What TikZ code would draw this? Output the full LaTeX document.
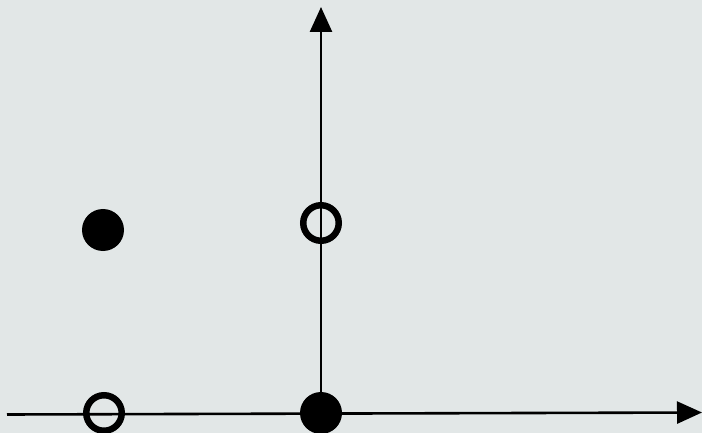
\documentclass[tikz,border=0pt]{standalone}
\usepackage{xcolor}
\usetikzlibrary{calc,arrows.meta}
\usetikzlibrary{positioning}
\definecolor{bgcol}{RGB}{226,231,231}

\begin{document}
\begin{tikzpicture}[x=1pt, y=-1pt,
  every node/.style={circle, inner sep=0pt},
  soliddot/.style={fill=black, draw=none, minimum size=42pt},
  opendot/.style={draw=black, line width=6.5pt, minimum size=35.5pt},
  axis/.style={draw=black, line width=2.6pt, -{Triangle[length=25pt, width=22pt]}}
]

% Background and bounding box
\fill[bgcol] (0,0) rectangle (702,433);
\useasboundingbox (0,0) rectangle (702,433);

% Axis end points
\coordinate (XL) at (7, 414.5);
\coordinate (XR) at (702, 412.5);
\coordinate (O)  at (321, 413);
\coordinate (YT) at (321, 7);

% ---- Axes ----
\draw[axis] (XL) -- (XR);
\draw[axis] (O) -- (YT);

% ---- Points ----
\node[soliddot] (P1) at (103, 230) {};
\node[opendot]  (P2) at (321, 223) {};
\node[opendot]  (P3) at (104, 413) {};
\node[soliddot] (P4) at (O) {};

\end{tikzpicture}
\end{document}
